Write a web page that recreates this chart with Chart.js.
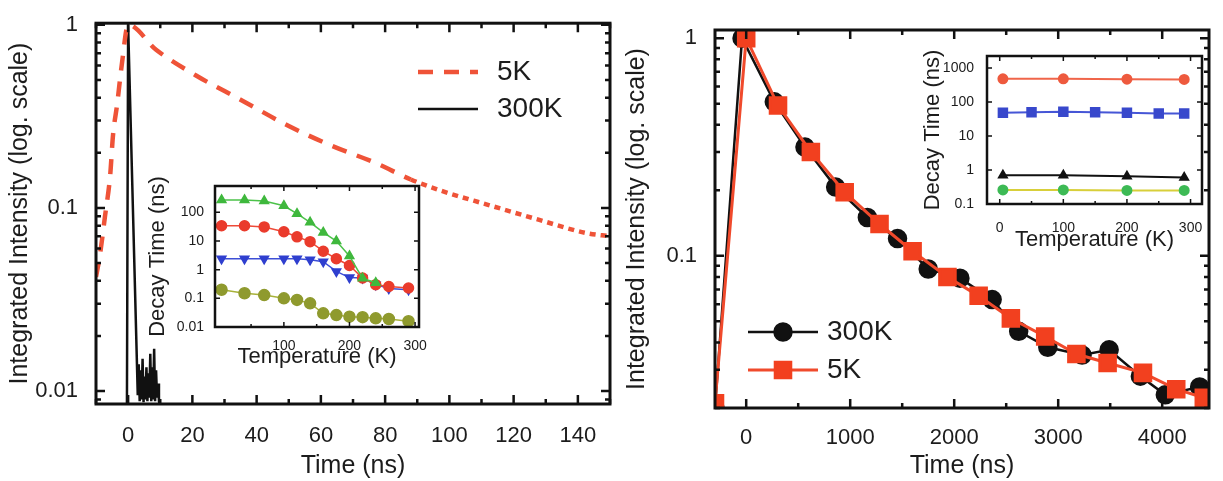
<!DOCTYPE html>
<html>
<head>
<meta charset="utf-8">
<script src="https://cdn.jsdelivr.net/npm/chart.js@4.4.1/dist/chart.umd.min.js"></script>
<style>
  html, body { margin: 0; padding: 0; background: #fff; }
  #wrap { position: relative; width: 1223px; height: 481px; overflow: hidden; }
  canvas { position: absolute; }
</style>
</head>
<body>
<div id="wrap">
  <canvas id="leftMain" width="612" height="481" style="left:0;top:0"></canvas>
  <canvas id="leftInset" width="290" height="210" style="left:140px;top:170px"></canvas>
  <canvas id="rightMain" width="611" height="481" style="left:612px;top:0"></canvas>
  <canvas id="rightInset" width="315" height="220" style="left:900px;top:40px"></canvas>
</div>
<script>
// ---- left panel: decay curves (ns) ----
const leftTime5K = [-10, -8.8, -7.2, -5.6, -4.7, -3.4, -1.9, 0, 8.7, 21, 35, 50, 63, 77, 88, 97.5, 112, 128, 142.5, 150];
const leftInt5K = [0.042, 0.055, 0.09, 0.15, 0.25, 0.37, 0.62, 1, 0.73, 0.53, 0.39, 0.28, 0.22, 0.176, 0.143, 0.124, 0.104, 0.086, 0.073, 0.07];
const leftTime300K = [-0.4, 0, 3.0, 3.3, 3.6, 3.9, 4.2, 4.5, 4.8, 5.1, 5.4, 5.7, 6.0, 6.3, 6.6, 6.9, 7.2, 7.5, 7.8, 8.1, 8.4, 8.7, 9.0, 9.3, 9.6, 10.0];
const leftInt300K = [0.006, 1, 0.0095, 0.014, 0.0088, 0.013, 0.009, 0.015, 0.0087, 0.012, 0.009, 0.0135, 0.0088, 0.0125, 0.0092, 0.016, 0.0088, 0.0135, 0.009, 0.017, 0.0088, 0.013, 0.0092, 0.011, 0.0088, 0.0082];
const leftXTicks = [0, 20, 40, 60, 80, 100, 120, 140];
const leftXMinor = [-10, 10, 30, 50, 70, 90, 110, 130, 150];
const leftYTicks = [0.01, 0.1, 1];

// left inset: decay time vs temperature
const insetTempL = [5, 40, 70, 100, 120, 140, 160, 180, 200, 220, 240, 260, 290];
const insetGreenL = [270, 270, 250, 170, 90, 45, 20, 10, 3, 0.5, 0.35];
const insetRedL = [34, 34, 31, 21, 14, 9.5, 4.4, 2.4, 1.4, 0.51, 0.3, 0.26, 0.23];
const insetBlueL = [2.4, 2.4, 2.4, 2.4, 2.4, 2.2, 1.9, 0.87, 0.53, 0.51, 0.3, 0.22, 0.2];
const insetOliveL = [0.2, 0.15, 0.13, 0.1, 0.088, 0.067, 0.03, 0.026, 0.023, 0.022, 0.02, 0.019, 0.016];
const insetXTicksL = [100, 200, 300];
const insetYTicksL = [0.01, 0.1, 1, 10, 100];

// ---- right panel: decay curves (ns) ----
const rightTime300K = [-300, -40, 270, 565, 860, 1165, 1455, 1750, 2055, 2365, 2620, 2900, 3230, 3490, 3790, 4030, 4360];
const rightInt300K = [0.02, 1, 0.51, 0.316, 0.207, 0.15, 0.12, 0.087, 0.079, 0.063, 0.045, 0.038, 0.035, 0.037, 0.028, 0.023, 0.025];
const rightTime5K = [-300, 0, 306, 622, 947, 1282, 1600, 1935, 2235, 2545, 2875, 3175, 3475, 3815, 4135, 4400];
const rightInt5K = [0.021, 1, 0.49, 0.30, 0.196, 0.14, 0.105, 0.08, 0.0655, 0.0516, 0.0426, 0.0354, 0.0322, 0.029, 0.0244, 0.0223];
const rightXTicks = [0, 1000, 2000, 3000, 4000];
const rightXMinor = [-500, 500, 1500, 2500, 3500];
const rightYTicks = [0.1, 1];

// right inset
const insetTempR = [5, 100, 200, 290];
const insetTempRBlue = [5, 50, 100, 150, 200, 250, 290];
const insetOrangeR = [480, 480, 470, 460];
const insetBlueR = [48, 50, 52, 50, 48, 46, 46];
const insetBlackR = [0.7, 0.7, 0.65, 0.6];
const insetGreenR = [0.26, 0.26, 0.25, 0.25];
const insetXTicksR = [0, 100, 200, 300];
const insetYTicksR = [0.1, 1, 10, 100, 1000];

Chart.defaults.font.family = "'Liberation Sans', Arial, sans-serif";
Chart.defaults.color = '#1c1c1c';
Chart.defaults.animation = false;

const pts = (xs, ys) => ys.map((v, i) => ({ x: xs[i], y: v }));
const minorLog = (lo, hi) => {
  const out = [];
  for (let d = lo; d < hi; d *= 10) for (let k = 2; k <= 9; k++) out.push(+(k * d).toPrecision(3));
  return out;
};

// frame box, inward ticks on all four sides, and a hand placed legend
const framePlugin = {
  id: 'frame',
  afterDatasetsDraw(chart, args, o) {
    const { ctx, chartArea: a, scales: { x, y } } = chart;
    ctx.save();
    ctx.strokeStyle = '#111';
    ctx.lineWidth = o.width;
    ctx.strokeRect(a.left, a.top, a.right - a.left, a.bottom - a.top);
    const vTicks = (vals, len) => vals.forEach(v => {
      const p = x.getPixelForValue(v);
      if (p < a.left || p > a.right) return;
      ctx.beginPath();
      ctx.moveTo(p, a.bottom); ctx.lineTo(p, a.bottom - len);
      ctx.moveTo(p, a.top); ctx.lineTo(p, a.top + len);
      ctx.stroke();
    });
    const hTicks = (vals, len) => vals.forEach(v => {
      const p = y.getPixelForValue(v);
      if (p < a.top - 1 || p > a.bottom + 1) return;
      ctx.beginPath();
      ctx.moveTo(a.left, p); ctx.lineTo(a.left + len, p);
      ctx.moveTo(a.right, p); ctx.lineTo(a.right - len, p);
      ctx.stroke();
    });
    ctx.lineWidth = o.tickWidth;
    vTicks(o.xMajor, o.major);
    vTicks(o.xMinor || [], o.minor);
    hTicks(o.yMajor, o.major);
    hTicks(o.yMinor || [], o.minor);
    const L = o.legend;
    if (L) {
      L.order.forEach((di, row) => {
        const ds = chart.data.datasets[di];
        const yy = L.y + row * L.rowH;
        ctx.strokeStyle = ds.borderColor;
        ctx.lineWidth = ds.borderWidth;
        ctx.setLineDash(ds.borderDash || []);
        ctx.beginPath(); ctx.moveTo(L.x, yy); ctx.lineTo(L.x + L.len, yy); ctx.stroke();
        ctx.setLineDash([]);
        if (ds.pointRadius) {
          ctx.fillStyle = ds.pointBackgroundColor;
          ctx.strokeStyle = ds.pointBorderColor;
          Chart.helpers.drawPoint(ctx, { pointStyle: ds.pointStyle, radius: ds.pointRadius, rotation: 0, borderWidth: 1 }, L.x + L.len / 2, yy);
        }
        ctx.fillStyle = '#1c1c1c';
        ctx.font = L.font;
        ctx.textBaseline = 'middle';
        ctx.fillText(ds.label, L.x + L.len + L.gap, yy);
      });
    }
    ctx.restore();
  }
};

function axis(type, min, max, ticks, size, pad, title, titleSize, fitSize, horiz) {
  return {
    type, min, max,
    grid: { display: false },
    border: { display: false },
    ticks: { font: { size }, padding: pad, autoSkip: false, maxRotation: 0, callback: v => String(v) },
    afterBuildTicks: s => { s.ticks = ticks.map(v => ({ value: v })); },
    afterFit: s => { if (horiz) s.height = fitSize; else s.width = fitSize; },
    title: { display: true, text: title, font: { size: titleSize }, padding: 0 }
  };
}

// left main
new Chart(document.getElementById('leftMain'), {
  type: 'line',
  data: {
    datasets: [
      { label: '5K', data: pts(leftTime5K, leftInt5K), borderColor: '#ef5338', borderWidth: 4.5,
        borderDash: [15, 11], pointRadius: 0, cubicInterpolationMode: 'monotone',
        // the tail of the 5K trace looks dotted in the original
        segment: { borderDash: c => c.p0.parsed.x >= 88 ? [6, 5] : undefined } },
      { label: '300K', data: pts(leftTime300K, leftInt300K), borderColor: '#111', borderWidth: 2.5,
        pointRadius: 0, tension: 0 }
    ]
  },
  options: {
    responsive: false,
    layout: { padding: { left: 5, right: 2, top: 22, bottom: 0 } },
    plugins: {
      legend: { display: false }, tooltip: { enabled: false },
      frame: { width: 3, tickWidth: 2.5, major: 9, minor: 5,
        xMajor: leftXTicks, xMinor: leftXMinor, yMajor: leftYTicks, yMinor: minorLog(0.001, 1).filter(v => v >= 0.009),
        legend: { x: 418, y: 72, rowH: 37, len: 60, gap: 19, font: "28px 'Liberation Sans', Arial, sans-serif", order: [0, 1] } }
    },
    scales: {
      x: axis('linear', -10, 150, leftXTicks, 22, 11, 'Time (ns)', 25, 77, true),
      y: axis('logarithmic', 0.0085, 1.02, leftYTicks, 22, 10, 'Integrated Intensity (log. scale)', 25, 91, false)
    }
  },
  plugins: [framePlugin]
});

// left inset
new Chart(document.getElementById('leftInset'), {
  type: 'line',
  data: {
    datasets: [
      { label: 'a', data: pts(insetTempL, insetGreenL), borderColor: '#4cc24a', backgroundColor: '#3fb83d', borderWidth: 1.5,
        pointStyle: 'triangle', pointRadius: 5, pointBackgroundColor: '#3fb83d', pointBorderColor: '#3fb83d' },
      { label: 'b', data: pts(insetTempL, insetRedL), borderColor: '#ee4a38', borderWidth: 1.5,
        pointStyle: 'circle', pointRadius: 5, pointBackgroundColor: '#ea3b2c', pointBorderColor: '#ea3b2c' },
      { label: 'c', data: pts(insetTempL, insetBlueL), borderColor: '#3d4fd6', borderWidth: 1.5,
        pointStyle: 'triangle', rotation: 180, pointRadius: 5, pointBackgroundColor: '#2f3fcf', pointBorderColor: '#2f3fcf' },
      { label: 'd', data: pts(insetTempL, insetOliveL), borderColor: '#a8b23a', borderWidth: 1.5,
        pointStyle: 'circle', pointRadius: 5.5, pointBackgroundColor: '#8f9a2e', pointBorderColor: '#8f9a2e' }
    ]
  },
  options: {
    responsive: false,
    layout: { padding: { left: 5, right: 11, top: 16, bottom: 10 } },
    plugins: {
      legend: { display: false }, tooltip: { enabled: false },
      frame: { width: 2.5, tickWidth: 1.5, major: 5, minor: 3,
        xMajor: insetXTicksL, xMinor: [50, 150, 250], yMajor: insetYTicksL, yMinor: [] }
    },
    scales: {
      x: axis('linear', -5, 306, insetXTicksL, 14, 3, 'Temperature (K)', 22, 43, true),
      y: axis('logarithmic', 0.01, 830, insetYTicksL, 14, 3, 'Decay Time (ns)', 22, 70, false)
    }
  },
  plugins: [framePlugin]
});

// right main
new Chart(document.getElementById('rightMain'), {
  type: 'line',
  data: {
    datasets: [
      { label: '300K', data: pts(rightTime300K, rightInt300K), borderColor: '#111', borderWidth: 2.5, order: 1,
        pointStyle: 'circle', pointRadius: 8.5, pointBackgroundColor: '#111', pointBorderColor: '#111' },
      { label: '5K', data: pts(rightTime5K, rightInt5K), borderColor: '#f04a2c', borderWidth: 3, order: 0,
        pointStyle: 'rect', pointRadius: 11, pointBackgroundColor: '#f2401f', pointBorderColor: '#f2401f' }
    ]
  },
  options: {
    responsive: false,
    layout: { padding: { left: 10, right: 3, top: 30, bottom: 0 } },
    plugins: {
      legend: { display: false }, tooltip: { enabled: false },
      frame: { width: 3, tickWidth: 2.5, major: 9, minor: 5,
        xMajor: rightXTicks, xMinor: rightXMinor, yMajor: rightYTicks, yMinor: minorLog(0.01, 1).filter(v => v >= 0.02),
        legend: { x: 136, y: 332, rowH: 38, len: 70, gap: 9, font: "28px 'Liberation Sans', Arial, sans-serif", order: [0, 1] } }
    },
    scales: {
      x: axis('linear', -300, 4450, rightXTicks, 22, 9, 'Time (ns)', 25, 73, true),
      y: axis('logarithmic', 0.02, 1.09, rightYTicks, 22, 10, 'Integrated Intensity (log. scale)', 25, 93, false)
    }
  },
  plugins: [framePlugin]
});

// right inset
new Chart(document.getElementById('rightInset'), {
  type: 'line',
  data: {
    datasets: [
      { label: 'a', data: pts(insetTempR, insetOrangeR), borderColor: '#f0654a', borderWidth: 2,
        pointStyle: 'circle', pointRadius: 4.5, pointBackgroundColor: '#ee5a3e', pointBorderColor: '#ee5a3e' },
      { label: 'b', data: pts(insetTempRBlue, insetBlueR), borderColor: '#4656d6', borderWidth: 2,
        pointStyle: 'rect', pointRadius: 6, pointBackgroundColor: '#3848cc', pointBorderColor: '#3848cc' },
      { label: 'c', data: pts(insetTempR, insetBlackR), borderColor: '#111', borderWidth: 2,
        pointStyle: 'triangle', pointRadius: 4.5, pointBackgroundColor: '#111', pointBorderColor: '#111' },
      { label: 'd', data: pts(insetTempR, insetGreenR), borderColor: '#d8cf3a', borderWidth: 2,
        pointStyle: 'circle', pointRadius: 4.5, pointBackgroundColor: '#3dba55', pointBorderColor: '#3dba55' }
    ]
  },
  options: {
    responsive: false,
    layout: { padding: { left: 20, right: 13, top: 16, bottom: 7 } },
    plugins: {
      legend: { display: false }, tooltip: { enabled: false },
      frame: { width: 2.5, tickWidth: 1.5, major: 5, minor: 3,
        xMajor: insetXTicksR, xMinor: [50, 150, 250], yMajor: insetYTicksR, yMinor: [] }
    },
    scales: {
      x: axis('linear', -20, 318, insetXTicksR, 14, 8, 'Temperature (K)', 22, 49, true),
      y: axis('logarithmic', 0.1, 2250, insetYTicksR, 14, 5, 'Decay Time (ns)', 22, 67, false)
    }
  },
  plugins: [framePlugin]
});
</script>
</body>
</html>
